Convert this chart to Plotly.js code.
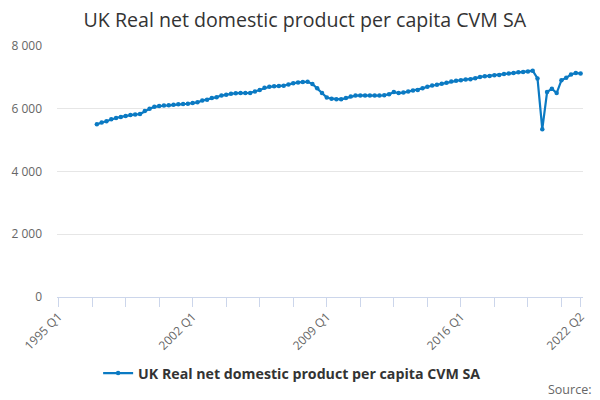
<!DOCTYPE html>
<html>
<head>
<meta charset="utf-8">
<script src="https://cdn.plot.ly/plotly-3.0.1.min.js"></script>
<style>
html,body{margin:0;padding:0;background:#fff;}
#chart{width:600px;height:400px;}
</style>
</head>
<body>
<div id="chart"></div>
<script>
// Category labels: quarters 1995 Q1 .. 2022 Q2
const firstYear = 1995;
const lastYear = 2022;
const lastQuarter = 2;
const quarters = [];
for (let y = firstYear; y <= lastYear; y++) {
  for (let q = 1; q <= 4; q++) {
    if (y === lastYear && q > lastQuarter) break;
    quarters.push(y + ' Q' + q);
  }
}
const seriesStart = '1997 Q1';
const seriesName = 'UK Real net domestic product per capita CVM SA';
const seriesValues = [
  5505, 5560, 5600, 5665,   // 1997
  5705, 5740, 5770, 5800,   // 1998
  5820, 5830, 5925, 6000,   // 1999
  6060, 6090, 6100, 6110,   // 2000
  6130, 6140, 6150, 6160,   // 2001
  6180, 6205, 6260, 6290,   // 2002
  6340, 6370, 6420, 6445,   // 2003
  6475, 6495, 6500, 6500,   // 2004
  6505, 6550, 6600, 6670,   // 2005
  6700, 6715, 6725, 6735,   // 2006
  6775, 6810, 6840, 6850,   // 2007
  6860, 6790, 6650, 6500,   // 2008
  6360, 6320, 6300, 6300,   // 2009
  6340, 6390, 6420, 6425,   // 2010
  6420, 6425, 6420, 6420,   // 2011
  6430, 6465, 6530, 6500,   // 2012
  6515, 6550, 6580, 6600,   // 2013
  6650, 6700, 6745, 6765,   // 2014
  6795, 6830, 6870, 6890,   // 2015
  6910, 6930, 6940, 6970,   // 2016
  7015, 7035, 7045, 7065,   // 2017
  7075, 7105, 7125, 7140,   // 2018
  7160, 7170, 7190, 7210,   // 2019
  6965, 5350, 6530, 6640,   // 2020
  6500, 6910, 6985, 7090,   // 2021
  7140, 7120                // 2022
];
const yTicks = [0, 2000, 4000, 6000, 8000];
const xTickEvery = 7;
const xLabelEvery = 28;

const startIdx = quarters.indexOf(seriesStart);
const seriesX = quarters.slice(startIdx, startIdx + seriesValues.length);

const tickvals = [], ticktext = [];
for (let i = 0; i < quarters.length; i += xTickEvery) {
  tickvals.push(quarters[i]);
  ticktext.push(i % xLabelEvery === 0 ? quarters[i] : '');
}
tickvals.push(quarters[quarters.length - 1]);
ticktext.push(quarters[quarters.length - 1]);

const blue = '#0b7ac3';
const trace = {
  type: 'scatter',
  mode: 'lines+markers',
  name: seriesName,
  x: seriesX,
  y: seriesValues,
  line: {color: blue, width: 2.2},
  marker: {color: blue, size: 4.5, symbol: 'circle'},
  hoverinfo: 'x+y'
};

const layout = {
  width: 600,
  height: 400,
  margin: {l: 56.7, r: 16.7, t: 46, b: 102.3, pad: 0},
  paper_bgcolor: '#fff',
  plot_bgcolor: '#fff',
  separators: '. ',
  font: {family: '"Open Sans", "DejaVu Sans", sans-serif', color: '#666', size: 12},
  title: {
    text: 'UK Real net domestic product per capita CVM SA',
    font: {family: '"Open Sans", sans-serif', size: 19.6, color: '#333'},
    x: 0.508, xanchor: 'center', y: 0.95, yanchor: 'middle', yref: 'container'
  },
  xaxis: {
    type: 'category',
    categoryorder: 'array',
    categoryarray: quarters,
    range: [-0.33, quarters.length - 0.5],
    tickmode: 'array',
    tickvals: tickvals,
    ticktext: ticktext,
    tickangle: -45,
    ticks: 'outside',
    ticklen: 9,
    tickwidth: 1,
    tickcolor: '#ccd6eb',
    ticklabelstandoff: -2,
    showline: true,
    linecolor: '#ccd6eb',
    linewidth: 1,
    showgrid: false,
    zeroline: false,
    tickfont: {size: 12, color: '#666'},
    fixedrange: true
  },
  yaxis: {
    range: [0, 8000],
    tickmode: 'array',
    tickvals: yTicks,
    tickformat: ',d',
    showgrid: true,
    gridcolor: '#e6e6e6',
    gridwidth: 1,
    zeroline: false,
    showline: false,
    ticks: '',
    ticklabelstandoff: 14,
    tickfont: {size: 12, color: '#666'},
    fixedrange: true
  },
  showlegend: true,
  legend: {
    orientation: 'h',
    x: 0.447, xanchor: 'center',
    y: -0.299, yanchor: 'middle',
    font: {size: 14.2, color: '#333', family: '"Open Sans", sans-serif', weight: 'bold'},
    itemwidth: 30
  },
  annotations: [{
    text: 'Source:',
    xref: 'paper', yref: 'paper',
    x: 1.0, xanchor: 'right',
    y: -0.367, yanchor: 'middle',
    xshift: 10,
    showarrow: false,
    font: {size: 12.5, color: '#666', family: '"Open Sans", sans-serif'}
  }]
};

Plotly.newPlot('chart', [trace], layout, {displayModeBar: false, staticPlot: true});
</script>
</body>
</html>
